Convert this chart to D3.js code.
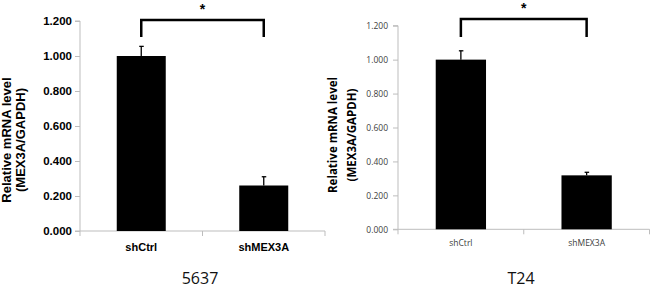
<!DOCTYPE html>
<html><head><meta charset="utf-8">
<script src="https://cdn.jsdelivr.net/npm/d3@7"></script>
<style>body{margin:0;background:#fff}svg{display:block}</style>
</head><body>
<script>
const categories = ["shCtrl", "shMEX3A"];
const values5637 = [1.000, 0.260];
const errors5637 = [0.055, 0.050];
const valuesT24 = [1.000, 0.318];
const errorsT24 = [0.052, 0.018];
const yTicks = [0, 0.2, 0.4, 0.6, 0.8, 1.0, 1.2];
const yTitle = ["Relative mRNA level", "(MEX3A/GAPDH)"];
const panelTitles = ["5637", "T24"];
const sigLabel = "*";

const W = 650, H = 293;
const svg = d3.select("body").append("svg").attr("width", W).attr("height", H);

function panel(cfg, values, errors, title) {
  const g = svg.append("g");
  const x = d3.scaleBand().domain(categories).range([cfg.x0, cfg.x1]).padding(0);
  const y = d3.scaleLinear().domain([0, 1.2]).range([cfg.y0, cfg.y1]);
  const bw = x.bandwidth() * 0.4;
  const cx = c => x(c) + x.bandwidth() / 2;

  // y axis
  const ya = d3.axisLeft(y).tickValues(yTicks).tickFormat(d3.format(".3f")).tickSize(5).tickPadding(cfg.pad);
  const yg = g.append("g").attr("transform", `translate(${cfg.x0},0)`).call(ya);
  yg.select(".domain").attr("stroke", "#bdbdbd").attr("d", `M-5,${cfg.y1}H0V${cfg.y0}H-5`);
  yg.selectAll(".tick line").attr("stroke", "#bdbdbd");
  yg.selectAll(".tick text").attr("font-family", cfg.tickFont).attr("font-size", cfg.tickSize)
    .attr("font-weight", cfg.tickWeight).attr("fill", cfg.tickColor);

  // x axis line with band-boundary ticks
  g.append("line").attr("x1", cfg.x0).attr("x2", cfg.x1).attr("y1", cfg.y0).attr("y2", cfg.y0).attr("stroke", "#bdbdbd");
  const bounds = [x(categories[0]), x(categories[1]), x(categories[1]) + x.bandwidth()];
  g.selectAll(".xt").data(bounds).enter().append("line")
    .attr("x1", d => d).attr("x2", d => d).attr("y1", cfg.y0).attr("y2", cfg.y0 + 5).attr("stroke", "#bdbdbd");

  // bars
  g.selectAll(".bar").data(categories).enter().append("rect")
    .attr("x", d => cx(d) - bw / 2).attr("width", bw)
    .attr("y", (d, i) => y(values[i])).attr("height", (d, i) => y(0) - y(values[i]))
    .attr("fill", "#000");

  // error bars
  categories.forEach((c, i) => {
    const top = y(values[i] + errors[i]);
    g.append("line").attr("x1", cx(c)).attr("x2", cx(c)).attr("y1", y(values[i])).attr("y2", top)
      .attr("stroke", "#000").attr("stroke-width", 1.3);
    g.append("line").attr("x1", cx(c) - 2).attr("x2", cx(c) + 2.5).attr("y1", top).attr("y2", top)
      .attr("stroke", "#000").attr("stroke-width", 1.3);
  });

  // x labels
  g.selectAll(".xl").data(categories).enter().append("text")
    .attr("x", d => cx(d)).attr("y", cfg.xlY).attr("text-anchor", "middle")
    .attr("font-family", cfg.tickFont).attr("font-size", cfg.xlSize).attr("font-weight", cfg.tickWeight)
    .attr("fill", cfg.tickColor).text(d => d);

  // bracket
  const a = cx(categories[0]), b = cx(categories[1]);
  g.append("path").attr("d", `M${a},${cfg.brBot}V${cfg.brTop}H${b}V${cfg.brBot}`)
    .attr("fill", "none").attr("stroke", "#000").attr("stroke-width", 2.5);
  g.append("text").attr("x", (a + b) / 2).attr("y", cfg.starY).attr("text-anchor", "middle")
    .attr("font-family", "Liberation Sans, Arial, sans-serif").attr("font-size", 14).attr("font-weight", "bold")
    .text(sigLabel);

  // y title
  yTitle.forEach((t, i) => {
    g.append("text").attr("transform", `translate(${cfg.tx[i]},${cfg.tyC}) rotate(-90)`)
      .attr("text-anchor", "middle").attr("dy", "0.35em")
      .attr("font-family", cfg.titleFont).attr("font-size", cfg.titleSize).attr("font-weight", "bold")
      .attr("fill", "#000").text(t);
  });

  // panel title
  g.append("text").attr("x", cfg.ptX).attr("y", 284).attr("text-anchor", "middle")
    .attr("font-family", "Open Sans, sans-serif").attr("font-size", 16).attr("fill", "#111").text(title);
}

panel({x0: 80, x1: 325, y0: 231, y1: 21, pad: 3,
  tickFont: "Liberation Sans, Arial, sans-serif", tickSize: 11.5, tickWeight: "bold", tickColor: "#000",
  xlY: 251, xlSize: 11,
  brTop: 20, brBot: 37, starY: 13.5,
  tx: [6, 20], tyC: 140, titleFont: "Liberation Sans, Arial, sans-serif", titleSize: 13,
  ptX: 200}, values5637, errors5637, panelTitles[0]);

panel({x0: 398, x1: 649.5, y0: 229.3, y1: 25.7, pad: 5,
  tickFont: "Open Sans, sans-serif", tickSize: 8.5, tickWeight: "normal", tickColor: "#404040",
  xlY: 246, xlSize: 8.5,
  brTop: 19, brBot: 37, starY: 13,
  tx: [333, 352], tyC: 135, titleFont: "Open Sans, sans-serif", titleSize: 11.5,
  ptX: 521}, valuesT24, errorsT24, panelTitles[1]);
</script>
</body></html>
